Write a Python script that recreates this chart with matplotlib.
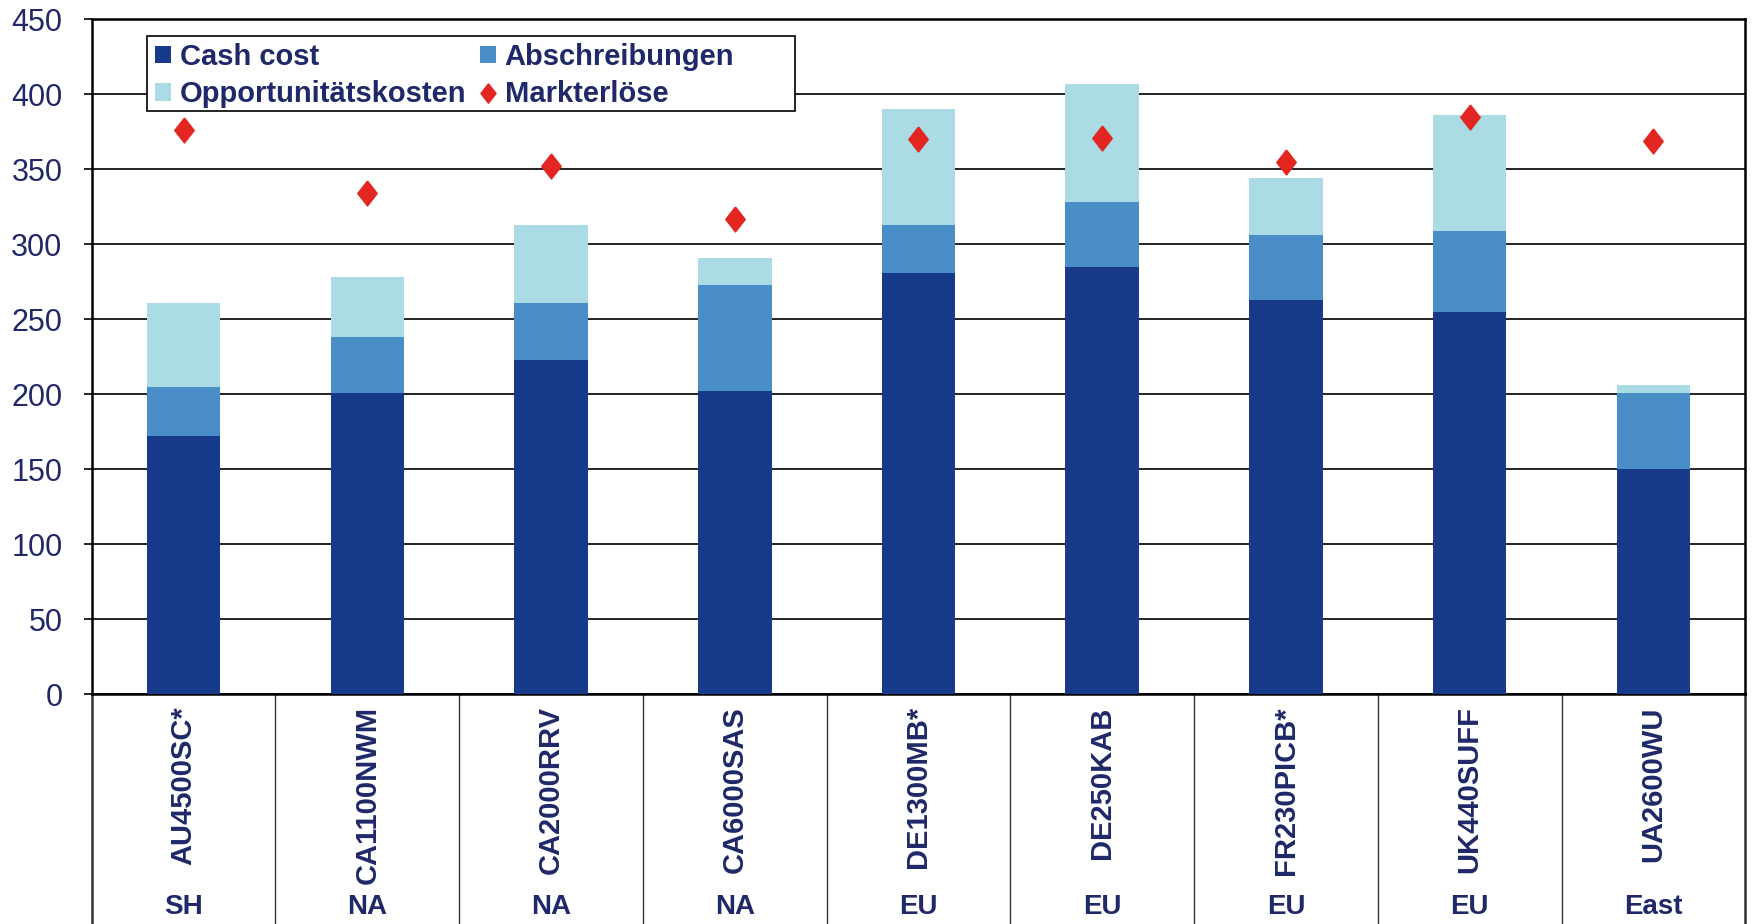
import matplotlib
matplotlib.use("Agg")
import matplotlib.pyplot as plt
from matplotlib.font_manager import fontManager
from matplotlib.patches import Rectangle
import numpy as np

# Kosten je Betrieb (gestapelt) und Markterlöse
betriebe = ['AU4500SC*', 'CA1100NWM', 'CA2000RRV', 'CA6000SAS', 'DE1300MB*',
            'DE250KAB', 'FR230PICB*', 'UK440SUFF', 'UA2600WU']
regionen = ['SH', 'NA', 'NA', 'NA', 'EU', 'EU', 'EU', 'EU', 'East']
cash_cost = [172, 201, 223, 202, 281, 285, 263, 255, 150]
abschreibungen = [33, 37, 38, 71, 32, 43, 43, 54, 51]
opportunitaet = [56, 40, 52, 18, 77, 79, 38, 77, 5]
markterloese = [376, 334, 352, 317, 370, 371, 355, 385, 369]
y_ticks = [0, 50, 100, 150, 200, 250, 300, 350, 400, 450]

NAVY = '#1F2868'
C_DARK = '#183A8A'
C_MID = '#4A8EC8'
C_LIGHT = '#ABDCE6'
C_RED = '#E32622'

names = {f.name for f in fontManager.ttflist}
narrow = 'Liberation Sans Narrow' if 'Liberation Sans Narrow' in names else 'Liberation Sans'
plt.rcParams['font.family'] = ['Liberation Sans', 'DejaVu Sans']

fig = plt.figure(figsize=(17.54, 9.24), dpi=100)
ax = fig.add_axes([0.0523, 0.2489, 0.9427, 0.7305])

x = np.arange(len(betriebe))
w = 0.40
b1 = np.array(cash_cost)
b2 = b1 + np.array(abschreibungen)
h_cash = ax.bar(x, cash_cost, w, color=C_DARK, zorder=3)
h_abs = ax.bar(x, abschreibungen, w, bottom=b1, color=C_MID, zorder=3)
h_opp = ax.bar(x, opportunitaet, w, bottom=b2, color=C_LIGHT, zorder=3)
diamond = [(0, 1), (0.78, 0), (0, -1), (-0.78, 0), (0, 1)]
h_mkt, = ax.plot(x, markterloese, linestyle='none', marker=diamond, ms=18,
                 color=C_RED, zorder=4)

ax.set_xlim(-0.5, len(betriebe) - 0.5)
ax.set_ylim(0, 450)
ax.set_yticks(y_ticks)
ax.tick_params(axis='y', direction='out', length=6, width=1.2, pad=15,
               labelsize=22, labelcolor=NAVY)
ax.set_xticks([])
ax.yaxis.grid(True, color='#222222', linewidth=1.4, zorder=1)
ax.set_axisbelow(True)
for s in ax.spines.values():
    s.set_linewidth(1.8)
    s.set_color('black')

# Kategoriebereich unter der Achse
trans = ax.get_xaxis_transform()
for b in np.arange(-0.5, len(betriebe)):
    lw = 1.8 if b in (-0.5, len(betriebe) - 0.5) else 1.0
    ax.plot([b, b], [0, -0.4], transform=trans, color='#333333', lw=lw, clip_on=False)
for i, (n, r) in enumerate(zip(betriebe, regionen)):
    ax.text(i, -0.018, n, transform=trans, rotation=90, ha='center', va='top',
            fontsize=21, fontweight='bold', color=NAVY)
    ax.text(i, -0.316, r, transform=trans, ha='center', va='center',
            fontsize=20, fontweight='bold', color=NAVY, family=[narrow, 'DejaVu Sans'])

# Legendenrahmen (breiter als der Text, wie im Original)
ax.add_patch(Rectangle((0.0332, 0.864), 0.3923, 0.111, transform=ax.transAxes,
                       facecolor='white', edgecolor='black', lw=1.2, zorder=5))
# Legende: Spalte 1 = Cash cost / Opportunitätskosten, Spalte 2 = Abschreibungen / Markterlöse
leg = ax.legend([h_cash, h_opp, h_abs, h_mkt],
                ['Cash cost', 'Opportunitätskosten', 'Abschreibungen', 'Markterlöse'],
                ncol=2, loc='upper left', bbox_to_anchor=(0.0332, 0.978), borderaxespad=0,
                frameon=False, handlelength=0.55, handleheight=0.55, handletextpad=0.3,
                columnspacing=0.45, borderpad=0.3, labelspacing=0.33,
                prop={'family': [narrow, 'DejaVu Sans'], 'weight': 'bold', 'size': 21})
leg.set_zorder(6)
for t in leg.get_texts():
    t.set_color(NAVY)
for lh in leg.legend_handles:
    if hasattr(lh, 'set_markersize'):
        lh.set_markersize(14)

fig.savefig('out.png', dpi=100, facecolor='white')
